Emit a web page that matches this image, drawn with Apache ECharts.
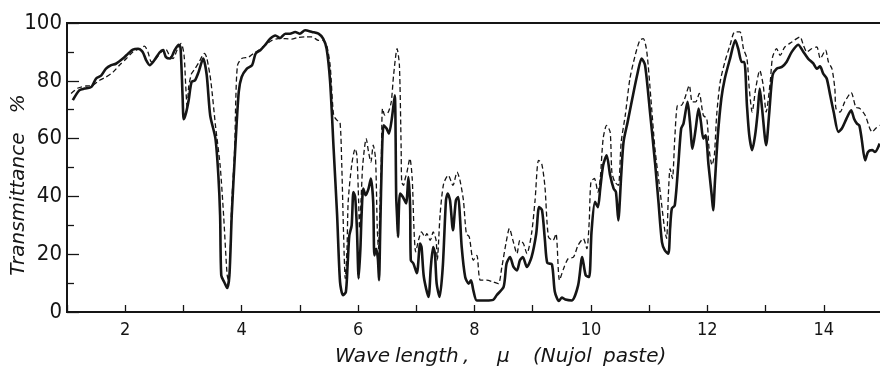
<!DOCTYPE html>
<html>
<head>
<meta charset="utf-8">
<script src="https://cdn.jsdelivr.net/npm/echarts@6/dist/echarts.min.js"></script>
<style>
  html, body { margin: 0; padding: 0; background: #fff; }
  #chart { width: 880px; height: 372px; }
</style>
</head>
<body>
<div id="chart"></div>
<script>
// Wavelength (micron) and transmittance (%)
const waveSolid = [1.10,1.21,1.30,1.42,1.50,1.59,1.67,1.76,1.84,1.96,2.05,2.13,2.22,2.30,2.36,2.42,2.50,2.59,2.65,2.70,2.77,2.85,2.92,2.95,2.985,3.005,3.04,3.09,3.14,3.20,3.26,3.34,3.40,3.46,3.55,3.60,3.63,3.65,3.70,3.75,3.79,3.83,3.89,3.95,4.00,4.09,4.18,4.24,4.32,4.40,4.49,4.58,4.66,4.75,4.83,4.92,5.00,5.09,5.21,5.32,5.40,5.46,5.52,5.58,5.64,5.69,5.74,5.79,5.82,5.85,5.89,5.92,5.95,5.98,6.01,6.04,6.06,6.09,6.13,6.18,6.22,6.26,6.28,6.31,6.34,6.36,6.38,6.41,6.44,6.49,6.53,6.58,6.63,6.655,6.67,6.685,6.72,6.77,6.825,6.865,6.894,6.906,6.95,7.01,7.066,7.09,7.13,7.21,7.25,7.29,7.32,7.35,7.40,7.455,7.51,7.54,7.58,7.63,7.68,7.72,7.75,7.78,7.84,7.90,7.94,7.98,8.04,8.20,8.32,8.38,8.50,8.55,8.61,8.67,8.73,8.78,8.83,8.90,8.98,9.06,9.11,9.16,9.21,9.25,9.33,9.38,9.45,9.50,9.56,9.67,9.78,9.85,9.91,9.97,10.01,10.07,10.12,10.16,10.21,10.27,10.33,10.39,10.43,10.47,10.52,10.56,10.63,10.71,10.80,10.87,10.93,11.02,11.10,11.16,11.22,11.27,11.33,11.36,11.39,11.44,11.50,11.55,11.59,11.66,11.70,11.745,11.80,11.85,11.89,11.93,11.97,12.02,12.075,12.10,12.13,12.18,12.24,12.30,12.39,12.48,12.53,12.59,12.635,12.68,12.72,12.77,12.82,12.865,12.90,12.94,13.01,13.06,13.12,13.19,13.28,13.36,13.45,13.56,13.65,13.73,13.82,13.88,13.935,13.99,14.05,14.11,14.17,14.25,14.31,14.39,14.47,14.52,14.57,14.61,14.65,14.71,14.76,14.83,14.88,14.96];
const transSolid = [73.3,76.7,77.3,77.9,80.8,81.9,84.2,85.4,85.9,87.7,89.4,90.8,91.1,90.0,87.1,85.4,87.1,89.8,90.6,88.2,87.7,90.6,92.5,91.5,75,66.7,68.5,73.3,79.6,80.2,83.0,87.7,82,68,60,47.3,33.5,12.7,10.4,8.3,12.7,33.5,56.5,76.1,81.3,84.2,85.4,89.4,90.6,92.3,94.6,95.7,94.8,96.3,96.3,96.9,96.3,97.5,96.9,96.3,94.6,91.1,79.6,56.5,33.5,10.4,5.8,6.9,16.2,26.5,30,41.5,39.8,28.9,11.6,21.9,33.5,42.7,40.4,42.7,46.2,38,19.6,21.9,18.5,11,27.7,54.2,64.6,63.5,61.7,66.9,75,40,33,26,41,39.8,37.6,46.7,36.3,17.9,16.8,13.4,23.7,22.5,12.1,5.2,15.6,22.5,20.2,9.8,5.2,15.6,38.6,41,38.6,28.3,38.6,39.8,32.9,22.5,12.1,9.8,11,7.5,4,4,4.2,5.8,8.7,16.7,19,15.6,14.4,17.9,19,15.6,19,27.1,36.3,35.2,24.8,17,16.5,7,3.8,5,4.3,4,9.2,19,12.7,12.1,27.7,38.1,36.3,42.7,50.8,54.2,47.3,42.7,41.5,31.7,47.3,58.8,65.7,73.8,82.5,87.7,85.4,68.1,51.9,38.1,24.2,21.3,20.2,28.9,35.8,36.9,50.8,63.5,65.2,72.7,66,56.5,63.5,70.4,65.7,60,61.1,50.8,40.4,35.2,45,61.1,73.8,80.8,87.7,94,91.1,86.5,86.5,71.5,61.1,56,61.1,69.2,77.3,70.4,57.7,68.1,81.9,84.2,84.8,86.5,90,92.5,90,87.7,86,84.2,85,82.5,80.8,75,69.2,62.3,63.5,66.9,69.8,66.9,65.2,64.6,60,52.5,55.4,56,55.4,58.3];

const waveDashed = [1.07,1.19,1.33,1.44,1.56,1.67,1.79,1.90,2.02,2.13,2.25,2.33,2.39,2.45,2.53,2.62,2.69,2.76,2.82,2.90,2.96,3.01,3.04,3.065,3.09,3.14,3.20,3.27,3.36,3.40,3.47,3.55,3.63,3.69,3.75,3.78,3.83,3.88,3.90,3.93,4.00,4.12,4.20,4.29,4.40,4.52,4.63,4.75,4.86,4.97,5.09,5.21,5.32,5.40,5.46,5.52,5.58,5.64,5.69,5.72,5.75,5.78,5.81,5.83,5.89,5.95,5.98,6.01,6.025,6.05,6.08,6.14,6.18,6.22,6.26,6.30,6.33,6.35,6.38,6.40,6.42,6.46,6.52,6.57,6.61,6.67,6.71,6.74,6.75,6.78,6.81,6.84,6.89,6.93,6.96,6.99,7.04,7.09,7.15,7.18,7.24,7.29,7.34,7.36,7.41,7.47,7.55,7.63,7.70,7.75,7.81,7.86,7.91,7.98,8.04,8.10,8.21,8.32,8.41,8.47,8.54,8.60,8.66,8.73,8.78,8.84,8.90,8.98,9.04,9.10,9.155,9.21,9.27,9.35,9.40,9.46,9.53,9.61,9.70,9.78,9.87,9.93,9.97,10.00,10.06,10.12,10.16,10.21,10.27,10.33,10.36,10.41,10.47,10.52,10.59,10.67,10.76,10.84,10.90,10.96,11.03,11.10,11.19,11.27,11.30,11.33,11.36,11.40,11.44,11.49,11.55,11.61,11.69,11.74,11.80,11.86,11.93,11.99,12.03,12.08,12.12,12.16,12.22,12.30,12.39,12.47,12.56,12.62,12.68,12.72,12.77,12.83,12.90,12.96,13.01,13.08,13.12,13.19,13.25,13.33,13.45,13.59,13.65,13.71,13.79,13.88,13.94,14.03,14.08,14.14,14.19,14.21,14.28,14.36,14.47,14.55,14.62,14.71,14.79,14.83,14.89,14.96];
const transDashed = [75.6,77.5,78.2,78.4,80.2,81.3,83.0,85.4,87.7,90.0,91.1,92.0,90,86.5,87.7,90.0,91.1,88.8,87.7,91.1,92.9,89,78,70.5,77.9,82.5,84.2,86.5,89.5,88,80,64.6,50.8,33.5,13,10.4,38,56.5,73.8,85.4,87.7,88.2,89.4,90.6,92.3,94,94.6,94.6,94.4,95,95.2,95.2,94.0,94.0,92.3,85.4,68.1,66.3,65.7,50.8,27.7,11.6,21.9,38.1,50.8,56.5,54.2,38.1,28.9,38.1,50.8,60,55.4,51.9,57.7,53.1,28.9,21.9,39.2,53.1,70.4,68.1,69.2,72.7,81.9,91.1,85.4,56.5,45,43.8,46.2,48.4,53.1,46.2,28.9,20.8,25,27.7,26,27.1,24.8,27.7,24.8,17.9,34,44.4,47.3,43.8,48.4,45.6,38.6,27.1,26,17.9,19.6,11,11,10.4,9.8,15.6,23.7,28.9,24.8,20.2,24.8,23.7,20.2,27.1,38.6,52.5,51.3,43.3,26,24.8,27.1,11,15,18.5,19,23.1,25.4,21.9,31.1,45,46.2,41.5,46.2,60,64.6,62.3,48.4,45,43.8,58.8,68.1,80.8,88.8,94,94.6,90,73.8,56.5,41.5,28,25.5,40.4,49.6,46.2,60,71.5,71.5,73.8,78.4,72.7,72.7,75.6,68.1,66.9,56.5,50.8,54.2,68.1,79.6,86.5,92.3,96.9,96.9,91.1,87.7,77.3,69.2,77.3,83.6,78.4,69.2,79.6,88.2,91.1,88.8,91.7,93.4,95.2,92.3,90,91.1,91.7,87.7,90.6,86.5,84.2,77.3,70.4,69.2,72.7,75.9,70.9,70.4,68.1,63.5,62.3,63.5,64.6];

const xTickLabels = ['2','4','6','8','10','12','14'];
const yTickLabels = ['0','20','40','60','80','100'];
const xTitleWords = ['Wave', 'length', ',', '\u03bc', '(Nujol', 'paste)'];
const yTitle = 'Transmittance   %';

const zip = (xs, ys) => xs.map((x, i) => [x, ys[i]]);
const ink = '#151515';
const numFont = "'Liberation Sans Narrow', 'DejaVu Sans Condensed', 'Liberation Sans', sans-serif";
const titleFont = 'italic 20px "DejaVu Sans", sans-serif';
const xTitleLeft = [335, 395, 463, 497, 533, 603];

const chart = echarts.init(document.getElementById('chart'), null, { renderer: 'canvas' });
chart.setOption({
  animation: false,
  backgroundColor: '#ffffff',
  grid: { left: 67, right: -2, top: 23, bottom: 60, containLabel: false, outerBoundsMode: 'none',
          show: true, borderColor: ink, borderWidth: 2, backgroundColor: 'transparent' },
  xAxis: {
    type: 'value', min: 1, max: 15, interval: 1,
    axisLine: { show: true, lineStyle: { color: ink, width: 2 } },
    axisTick: { show: true, inside: true, length: 7, lineStyle: { color: ink, width: 1.3 } },
    axisLabel: {
      margin: 9, color: ink, fontSize: 18, fontFamily: numFont, showMaxLabel: false,
      formatter: v => xTickLabels.includes(String(v)) ? String(v) : ''
    },
    splitLine: { show: false }
  },
  yAxis: {
    type: 'value', min: 0, max: 100, interval: 20,
    axisLine: { show: true, lineStyle: { color: ink, width: 2 } },
    axisTick: { show: true, inside: true, length: 12, lineStyle: { color: ink, width: 1.3 } },
    minorTick: { show: true, splitNumber: 2, length: 7, lineStyle: { color: ink, width: 1.3 } },
    axisLabel: {
      margin: 5, color: ink, fontSize: 22, fontFamily: numFont,
      formatter: v => yTickLabels.includes(String(v)) ? String(v) : ''
    },
    splitLine: { show: false }
  },
  graphic: xTitleWords.map((w, i) => ({
      type: 'text', left: xTitleLeft[i], top: 347,
      style: { text: w, font: titleFont, fill: ink }
    })).concat([{
      type: 'text', x: 19, y: 185, rotation: Math.PI / 2,
      style: { text: yTitle, font: titleFont, fill: ink, align: 'center', verticalAlign: 'middle' }
    }]),
  series: [
    {
      name: 'solid', type: 'line', data: zip(waveSolid, transSolid),
      showSymbol: false, smooth: 0.25, lineStyle: { color: ink, width: 2.6 }, z: 3
    },
    {
      name: 'dashed', type: 'line', data: zip(waveDashed, transDashed),
      showSymbol: false, smooth: 0.25, lineStyle: { color: ink, width: 1.3, type: [5, 3] }, z: 2
    }
  ]
});
</script>
</body>
</html>
